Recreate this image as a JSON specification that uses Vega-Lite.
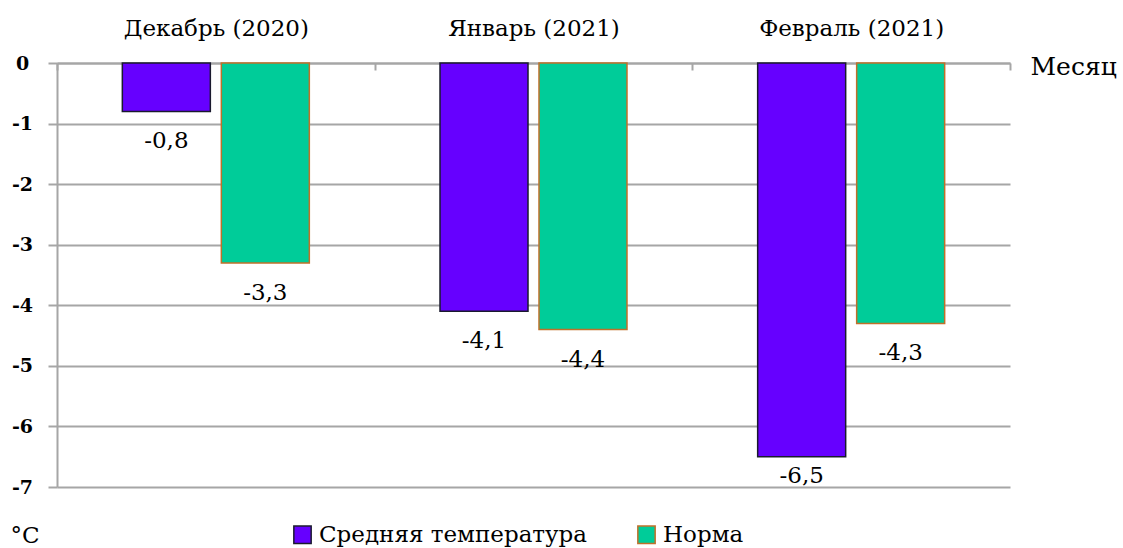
{
  "$schema": "https://vega.github.io/schema/vega-lite/v6.json",
  "autosize": {"type": "none"},
  "width": 953,
  "height": 424,
  "padding": {"left": 57, "top": 63, "right": 113, "bottom": 61},
  "background": "white",
  "config": {
    "view": {"stroke": null},
    "font": "DejaVu Serif"
  },
  "data": {
    "values": [
      {"month": "Декабрь (2020)", "series": "Средняя температура", "value": -0.8},
      {"month": "Декабрь (2020)", "series": "Норма", "value": -3.3},
      {"month": "Январь (2021)", "series": "Средняя температура", "value": -4.1},
      {"month": "Январь (2021)", "series": "Норма", "value": -4.4},
      {"month": "Февраль (2021)", "series": "Средняя температура", "value": -6.5},
      {"month": "Февраль (2021)", "series": "Норма", "value": -4.3}
    ]
  },
  "transform": [
    {"calculate": "'-' + replace(format(abs(datum.value), '.1f'), '.', ',')", "as": "label"}
  ],
  "encoding": {
    "x": {
      "field": "month",
      "type": "nominal",
      "sort": ["Декабрь (2020)", "Январь (2021)", "Февраль (2021)"],
      "scale": {"paddingInner": 0, "paddingOuter": 0},
      "axis": {
        "orient": "top",
        "title": "Месяц",
        "titleFont": "DejaVu Serif",
        "titleFontSize": 25,
        "titleFontWeight": "normal",
        "titleColor": "black",
        "titleAlign": "left",
        "titleBaseline": "middle",
        "titleX": 973,
        "titleY": 3,
        "labelFont": "DejaVu Serif",
        "labelFontSize": 23,
        "labelColor": "black",
        "labelAngle": 0,
        "labelPadding": 30,
        "labelLimit": 400,
        "tickBand": "extent",
        "tickSize": -7,
        "tickColor": "#a6a6a6",
        "tickWidth": 2,
        "domainColor": "#a6a6a6",
        "domainWidth": 2
      }
    },
    "xOffset": {
      "field": "series",
      "type": "nominal",
      "sort": ["Средняя температура", "Норма"],
      "scale": {"paddingInner": 0.111, "paddingOuter": 0.66}
    }
  },
  "layer": [
    {
      "mark": {"type": "bar", "strokeWidth": 1.5},
      "encoding": {
        "y": {
          "field": "value",
          "type": "quantitative",
          "scale": {"domain": [-7, 0], "nice": false},
          "axis": {
            "title": "°C",
            "titleAngle": 0,
            "titleFont": "DejaVu Serif",
            "titleFontSize": 23,
            "titleFontWeight": "normal",
            "titleColor": "black",
            "titleAlign": "left",
            "titleBaseline": "middle",
            "titleX": -47,
            "titleY": 472,
            "values": [0, -1, -2, -3, -4, -5, -6, -7],
            "labelExpr": "datum.value == 0 ? '0' : '-' + abs(datum.value)",
            "labelFont": "DejaVu Serif",
            "labelFontSize": 19,
            "labelFontWeight": "bold",
            "labelColor": "black",
            "labelAlign": "center",
            "labelBaseline": "middle",
            "labelPadding": 26,
            "tickSize": 9,
            "tickColor": "#a6a6a6",
            "tickWidth": 2,
            "domainColor": "#a6a6a6",
            "domainWidth": 2,
            "grid": true,
            "gridColor": "#a6a6a6",
            "gridWidth": 2
          }
        },
        "fill": {
          "field": "series",
          "type": "nominal",
          "sort": ["Средняя температура", "Норма"],
          "scale": {"domain": ["Средняя температура", "Норма"], "range": ["#6600ff", "#00cc99"]},
          "legend": {
            "title": null,
            "orient": "none",
            "legendX": 234,
            "legendY": 460,
            "direction": "horizontal",
            "symbolType": "square",
            "symbolSize": 300,
            "symbolStrokeWidth": 1.5,
            "symbolOpacity": 1,
            "labelFont": "DejaVu Serif",
            "labelFontSize": 23,
            "labelColor": "black",
            "labelOffset": 5,
            "columnPadding": 46,
            "labelLimit": 400
          }
        },
        "stroke": {
          "field": "series",
          "type": "nominal",
          "sort": ["Средняя температура", "Норма"],
          "scale": {"domain": ["Средняя температура", "Норма"], "range": ["#1a1a2e", "#c0702a"]},
          "legend": {
            "title": null,
            "orient": "none",
            "legendX": 234,
            "legendY": 460,
            "direction": "horizontal",
            "symbolType": "square",
            "symbolSize": 300,
            "symbolStrokeWidth": 1.5,
            "labelFont": "DejaVu Serif",
            "labelFontSize": 23,
            "labelColor": "black",
            "labelOffset": 5,
            "columnPadding": 46,
            "labelLimit": 400
          }
        }
      }
    },
    {
      "transform": [{"filter": "datum.value >= -6"}],
      "mark": {"type": "text", "baseline": "middle", "align": "center", "dy": 30, "fontSize": 23, "color": "black", "font": "DejaVu Serif"},
      "encoding": {
        "y": {"field": "value", "type": "quantitative"},
        "text": {"field": "label"}
      }
    },
    {
      "transform": [{"filter": "datum.value < -6"}],
      "mark": {"type": "text", "baseline": "middle", "align": "center", "dy": 19, "fontSize": 23, "color": "black", "font": "DejaVu Serif"},
      "encoding": {
        "y": {"field": "value", "type": "quantitative"},
        "text": {"field": "label"}
      }
    }
  ]
}
